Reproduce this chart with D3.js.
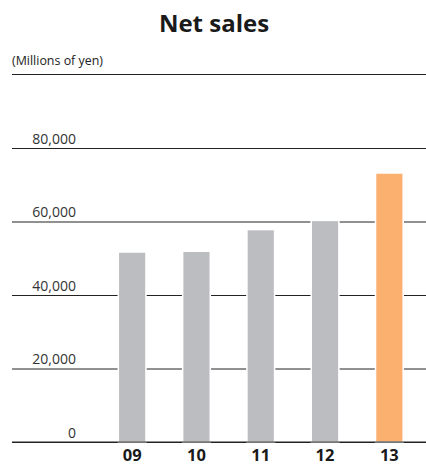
<!DOCTYPE html>
<html>
<head>
<meta charset="utf-8">
<script src="https://cdn.jsdelivr.net/npm/d3@7"></script>
<style>
  body { margin: 0; background: #fff; }
  svg { display: block; font-family: "Open Sans", sans-serif; }
</style>
</head>
<body>
<svg id="chart" width="426" height="465"></svg>
<script>
const years = ["09", "10", "11", "12", "13"];
const net_sales = [51700, 51900, 57800, 60300, 73200];
const tick_values = [0, 20000, 40000, 60000, 80000];
const bar_colors = ["#bcbdc0", "#bcbdc0", "#bcbdc0", "#bcbdc0", "#fbb070"];

const svg = d3.select("#chart");
const svgWidth = +svg.attr("width");

// scales
const xScale = d3.scaleBand()
    .domain(years)
    .range([100, 421.5])
    .paddingInner(0.57)
    .paddingOuter(0.285);
const yScale = d3.scaleLinear().domain([0, 80000]).range([442, 148]);

// title
svg.append("text")
    .attr("x", 214)
    .attr("y", 32)
    .attr("text-anchor", "middle")
    .attr("font-size", 24)
    .attr("font-weight", "bold")
    .attr("fill", "#1a1a1a")
    .text("Net sales");

svg.append("text")
    .attr("x", 12)
    .attr("y", 65)
    .attr("font-size", 12.5)
    .attr("textLength", 91)
    .attr("lengthAdjust", "spacingAndGlyphs")
    .attr("fill", "#222")
    .text("(Millions of yen)");

svg.append("line")
    .attr("x1", 12).attr("x2", svgWidth)
    .attr("y1", 74.5).attr("y2", 74.5)
    .attr("stroke", "#222")
    .attr("stroke-width", 1.2);

// y axis: gridlines + labels
const yAxis = d3.axisLeft(yScale)
    .tickValues(tick_values)
    .tickSize(-(svgWidth - 12))
    .tickFormat(d3.format(","));

const yg = svg.append("g")
    .attr("transform", "translate(12,0)")
    .call(yAxis);
yg.select(".domain").remove();
yg.selectAll(".tick line")
    .attr("stroke", "#222")
    .attr("stroke-width", 1);
yg.selectAll(".tick text")
    .attr("x", 64)
    .attr("dy", -5)
    .attr("text-anchor", "end")
    .attr("font-size", 14)
    .attr("fill", "#333")
    .attr("font-family", "Open Sans, sans-serif");

// bars
svg.append("g")
    .selectAll("rect")
    .data(net_sales)
    .enter()
    .append("rect")
    .attr("x", (d, i) => xScale(years[i]))
    .attr("y", (d) => yScale(d))
    .attr("width", xScale.bandwidth())
    .attr("height", (d) => yScale(0) - yScale(d))
    .attr("fill", (d, i) => bar_colors[i])
    .attr("stroke", "#fff")
    .attr("stroke-width", 1.5);

// baseline redrawn over bars
svg.append("line")
    .attr("x1", 12).attr("x2", svgWidth)
    .attr("y1", yScale(0)).attr("y2", yScale(0))
    .attr("stroke", "#222")
    .attr("stroke-width", 1);

// x labels
const xAxis = d3.axisBottom(xScale).tickSize(0).tickPadding(0);
const xg = svg.append("g")
    .attr("transform", "translate(0,460.5)")
    .call(xAxis);
xg.select(".domain").remove();
xg.selectAll(".tick text")
    .attr("y", 0)
    .attr("dy", 0)
    .attr("font-size", 16.5)
    .attr("font-weight", "bold")
    .attr("fill", "#1a1a1a")
    .attr("font-family", "Open Sans, sans-serif");
</script>
</body>
</html>
